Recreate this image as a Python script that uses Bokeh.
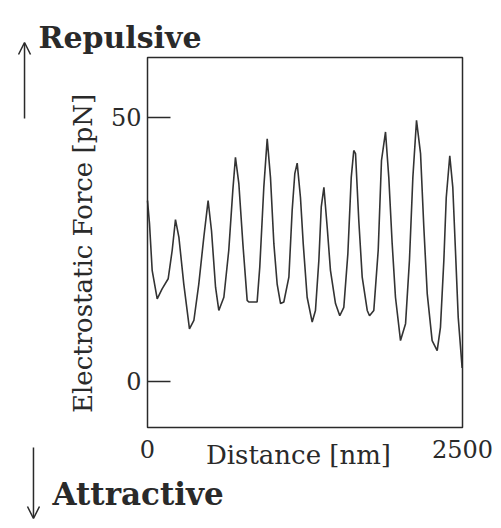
import math
from bokeh.plotting import figure
from bokeh.models import Range1d, FixedTicker, Label, Arrow, OpenHead, BoxAnnotation
from bokeh.embed import file_html
from bokeh.resources import INLINE

distance_nm = [0, 16, 37, 77, 116, 164, 196, 222, 249, 288, 333, 368, 407, 447, 481, 508, 540,
               566, 606, 645, 677, 698, 725, 757, 791, 804, 844, 870, 891, 923, 950, 976, 1003,
               1029, 1056, 1082, 1122, 1148, 1169, 1188, 1214, 1236, 1267, 1307, 1333, 1360,
               1379, 1400, 1426, 1452, 1492, 1526, 1558, 1590, 1617, 1637, 1651, 1677, 1704,
               1744, 1762, 1796, 1831, 1857, 1889, 1915, 1942, 1968, 2008, 2048, 2079, 2106,
               2135, 2167, 2193, 2220, 2259, 2299, 2325, 2352, 2371, 2399, 2423, 2444, 2466,
               2497]
force_pN = [34.2, 29.8, 21.0, 15.6, 17.5, 19.4, 24.8, 30.6, 27.3, 18.4, 9.9, 11.5, 18.4, 27.3,
            34.2, 28.5, 17.8, 13.4, 15.9, 24.8, 36.1, 42.4, 37.4, 26.0, 15.3, 15.0, 15.0, 15.0,
            21.6, 36.7, 45.9, 38.6, 26.0, 18.4, 14.7, 15.0, 19.7, 32.3, 39.3, 41.3, 34.8, 26.0,
            15.9, 11.2, 13.4, 22.9, 33.0, 36.7, 29.2, 21.0, 14.7, 12.4, 14.0, 24.1, 38.6, 43.7,
            43.1, 30.4, 19.7, 13.4, 12.4, 13.4, 24.8, 41.8, 47.2, 38.6, 26.0, 15.9, 7.7, 10.9,
            22.9, 38.6, 49.4, 43.1, 29.2, 16.6, 7.7, 5.8, 10.2, 22.9, 34.8, 42.7, 36.7, 24.8,
            12.1, 2.5]
x_ticks = [0, 2500]
y_ticks = [0, 50]
x_lim = (0, 2500)
y_lim = (-8.77, 61.3)

SERIF = "DejaVu Serif"
INK = "#2a2a2a"

# frame covers the whole canvas; the plot box is drawn at the data limits
p = figure(width=493, height=520, output_backend="svg", toolbar_location=None,
           x_range=Range1d(-1166.7, 2746.0), y_range=Range1d(-26.38, 72.10),
           min_border=0)
p.grid.visible = False
p.outline_line_color = None
p.background_fill_color = "white"
p.border_fill_color = "white"

p.add_layout(BoxAnnotation(left=x_lim[0], right=x_lim[1], bottom=y_lim[0], top=y_lim[1],
                           fill_alpha=0, line_color=INK, line_alpha=1.0, line_width=1.5))

p.line(distance_nm, force_pN, line_color="#333333", line_width=1.6)

# y axis
ya = p.yaxis[0]
ya.fixed_location = x_lim[0]
ya.ticker = FixedTicker(ticks=y_ticks)
ya.major_tick_in = 23
ya.major_tick_out = 0
ya.minor_tick_line_color = None
ya.major_tick_line_color = INK
ya.major_tick_line_width = 1.5
ya.axis_line_color = None
ya.major_label_text_font = SERIF
ya.major_label_text_font_size = "24px"
ya.major_label_text_color = INK
ya.major_label_standoff = 6

# x axis
xa = p.xaxis[0]
xa.fixed_location = y_lim[0]
xa.ticker = FixedTicker(ticks=x_ticks)
xa.major_tick_line_color = None
xa.minor_tick_line_color = None
xa.axis_line_color = None
xa.major_label_text_font = SERIF
xa.major_label_text_font_size = "24px"
xa.major_label_text_color = INK
xa.major_label_standoff = 6

def label(x, y, text, size, bold=False, align="left", baseline="alphabetic", angle=0.0):
    p.add_layout(Label(x=x, y=y, text=text, text_align=align, text_baseline=baseline,
                       angle=angle, text_font=SERIF, text_font_size=size,
                       text_font_style="bold" if bold else "normal", text_color=INK))

label(-508, 24.2, "Electrostatic Force [pN]", "26px", align="center", baseline="middle",
      angle=math.pi / 2)
label(1198, -14.0, "Distance [nm]", "26px", align="center")
label(-865, 65.09, "Repulsive", "30px", bold=True)
label(-754, -21.27, "Attractive", "31px", bold=True)

for xs, ys, ye in [(-976, 49.75, 64.15), (-905, -12.56, -26.0)]:
    p.add_layout(Arrow(x_start=xs, y_start=ys, x_end=xs, y_end=ye,
                       line_color=INK, line_width=1.5,
                       end=OpenHead(size=12, line_color=INK, line_width=1.5)))

open("out.html", "w").write(file_html(p, INLINE))
